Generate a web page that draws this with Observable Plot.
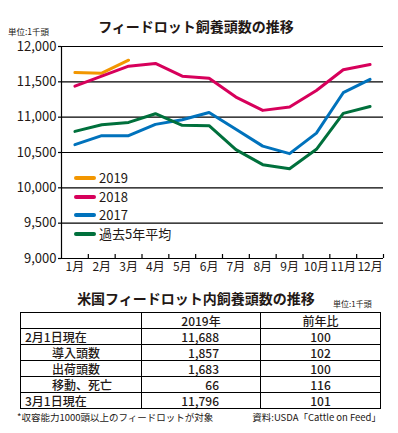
<!DOCTYPE html>
<html>
<head>
<meta charset="utf-8">
<script src="https://cdn.jsdelivr.net/npm/d3@7"></script>
<script src="https://cdn.jsdelivr.net/npm/@observablehq/plot@0.6"></script>
<style>
  html, body { margin: 0; padding: 0; background: #fff; }
  #wrap { position: relative; width: 398px; height: 433px; overflow: hidden;
          font-family: "Noto Sans CJK JP", "Noto Sans", sans-serif; color: #231815; }
  .abs { position: absolute; white-space: nowrap; }
  #title { left: 0; width: 392px; top: 16px; text-align: center; font-size: 14px; font-weight: bold; line-height: 20px; }
  #unit1 { left: 8px; top: 26px; font-size: 8.5px; line-height: 10px; }
  #chart { position: absolute; left: 0; top: 36px; }
  .leg { position: absolute; left: 74px; height: 12px; white-space: nowrap; }
  .leg .ln { position: absolute; left: 0; top: 4px; width: 22px; height: 4px; border-radius: 2px; }
  .leg .tx { position: absolute; left: 25px; top: -3px; font-size: 13px; line-height: 17px; white-space: nowrap; }
  #ttitle { left: 0; width: 392px; top: 288px; text-align: center; font-size: 14px; font-weight: bold; line-height: 20px; }
  #unit2 { left: 333px; top: 298px; font-size: 8px; line-height: 12px; }
  table { position: absolute; left: 20px; top: 312px; border-collapse: collapse; font-size: 12px; font-weight: 500; }
  td { border: 1px solid #000; padding: 0; height: 15.5px; line-height: 15px; }
  td.c1 { width: 121px; padding-left: 4px; box-sizing: border-box; }
  td.c1.ind { padding-left: 31px; }
  td.c2 { width: 119px; text-align: right; padding-right: 41px; box-sizing: border-box; }
  td.c2.h { text-align: center; padding-right: 0; }
  td.c3 { width: 120px; text-align: center; box-sizing: border-box; }
  #note { left: 17px; top: 411px; font-size: 9.5px; line-height: 13px; }
  #src { right: 17px; top: 411px; font-size: 9.5px; line-height: 13px; }
</style>
</head>
<body>
<div id="wrap">
  <div class="abs" id="title">フィードロット飼養頭数の推移</div>
  <div class="abs" id="unit1">単位:1千頭</div>
  <div id="chart"></div>
  <div id="legend"></div>
  <div class="abs" id="ttitle">米国フィードロット内飼養頭数の推移</div>
  <div class="abs" id="unit2">単位:1千頭</div>
  <table id="tbl"></table>
  <div class="abs" id="note">*収容能力1000頭以上のフィードロットが対象</div>
  <div class="abs" id="src">資料:USDA「Cattle on Feed」</div>
</div>
<script>
// ---- data ----
const months = [1, 2, 3, 4, 5, 6, 7, 8, 9, 10, 11, 12];
const s2019 = [11633, 11623, 11806];
const s2018 = [11439, 11580, 11722, 11760, 11580, 11552, 11284, 11096, 11143, 11378, 11671, 11746];
const s2017 = [10611, 10738, 10738, 10898, 10964, 11067, 10828, 10590, 10484, 10775, 11346, 11534];
const avg5  = [10799, 10893, 10926, 11049, 10884, 10880, 10540, 10328, 10271, 10545, 11054, 11152];
const seriesNames = ["2019", "2018", "2017", "過去5年平均"];
const seriesColors = ["#F29600", "#D7005B", "#0072BC", "#00703C"];
const yTicks = [9000, 9500, 10000, 10500, 11000, 11500, 12000];
const monthBounds = [1.5, 2.5, 3.5, 4.5, 5.5, 6.5, 7.5, 8.5, 9.5, 10.5, 11.5, 12.5];

const tableRows = ["2月1日現在", "導入頭数", "出荷頭数", "移動、死亡", "3月1日現在"];
const tableIndent = [false, true, true, true, false];
const table2019 = ["11,688", "1,857", "1,683", "66", "11,796"];
const tableYoY = ["100", "102", "100", "116", "101"];
const tableHeader = ["", "2019年", "前年比"];

// ---- build line data ----
const allSeries = [s2019, s2018, s2017, avg5];
const lineData = allSeries.flatMap((vals, si) =>
  vals.map((v, i) => ({month: months[i], value: v, series: seriesNames[si]})));

const chart = Plot.plot({
  width: 398,
  height: 244,
  marginLeft: 61,
  marginRight: 15,
  marginTop: 10,
  marginBottom: 22,
  style: {fontFamily: '"Noto Sans CJK JP", sans-serif', color: "#231815", background: "transparent"},
  x: {domain: [0.5, 12.5], axis: null, label: null},
  y: {domain: [9000, 12000], axis: null, label: null},
  color: {domain: seriesNames, range: seriesColors},
  marks: [
    Plot.gridY(yTicks, {stroke: "#000", strokeOpacity: 1, strokeWidth: 1.2}),
    Plot.axisY({ticks: yTicks, tickSize: 3, tickPadding: 2, stroke: "#000", strokeWidth: 1.2,
                tickFormat: d3.format(","), fontSize: 13, label: null}),
    Plot.ruleX([0.5], {stroke: "#000", strokeWidth: 1.2}),
    Plot.axisX({ticks: monthBounds, tickSize: -4, tickFormat: () => "", stroke: "#000", strokeWidth: 1.2, label: null}),
    Plot.axisX({ticks: months, tickSize: 0, tickPadding: 4, tickFormat: d => d + "月", fontSize: 12, label: null}),
    Plot.line(lineData, {x: "month", y: "value", z: "series", stroke: "series",
                         strokeWidth: 3, strokeLinejoin: "round"})
  ]
});
document.getElementById("chart").appendChild(chart);

// ---- legend ----
const legendTops = [172, 190.5, 208.5, 228];
const legend = document.getElementById("legend");
seriesNames.forEach((name, i) => {
  const d = document.createElement("div");
  d.className = "leg";
  d.style.top = legendTops[i] + "px";
  d.innerHTML = `<div class="ln" style="background:${seriesColors[i]}"></div><div class="tx">${name}</div>`;
  legend.appendChild(d);
});

// ---- table ----
const tbl = document.getElementById("tbl");
let html = `<tr><td class="c1"></td><td class="c2 h">${tableHeader[1]}</td><td class="c3">${tableHeader[2]}</td></tr>`;
tableRows.forEach((r, i) => {
  html += `<tr><td class="c1${tableIndent[i] ? " ind" : ""}">${r}</td><td class="c2">${table2019[i]}</td><td class="c3">${tableYoY[i]}</td></tr>`;
});
tbl.innerHTML = html;
</script>
</body>
</html>
